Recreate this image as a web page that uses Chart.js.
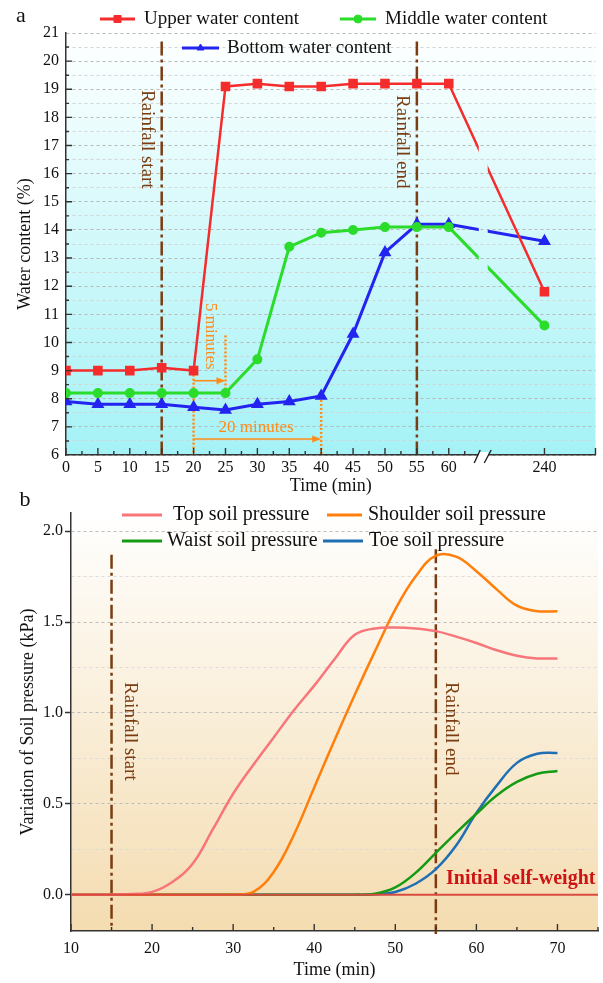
<!DOCTYPE html>
<html>
<head>
<meta charset="utf-8">
<title>Water content and soil pressure</title>
<script src="https://cdn.jsdelivr.net/npm/chart.js@4.4.1/dist/chart.umd.min.js"></script>
<style>
  body{margin:0;background:#fff;}
  #wrap{position:relative;width:603px;height:983px;overflow:hidden;}
  canvas{position:absolute;left:0;}
  #chartA{top:0;}
  #chartB{top:480px;}
</style>
</head>
<body>
<div id="wrap">
  <canvas id="chartA" width="603" height="497"></canvas>
  <canvas id="chartB" width="603" height="503"></canvas>
</div>
<script>
// ---- panel a : water content ----
const timesA = [0,5,10,15,20,25,30,35,40,45,50,55,60,240];
const upperWater  = [9.0,9.0,9.0,9.1,9.0,19.1,19.2,19.1,19.1,19.2,19.2,19.2,19.2,11.8];
const middleWater = [8.2,8.2,8.2,8.2,8.2,8.2,9.4,13.4,13.9,14.0,14.1,14.1,14.1,10.6];
const bottomWater = [7.9,7.8,7.8,7.8,7.7,7.6,7.8,7.9,8.1,10.3,13.2,14.2,14.2,13.6];
const legendA = ['Upper water content','Middle water content','Bottom water content'];

// ---- panel b : soil pressure ----
const timesB = [10,12.5,15,17.5,20,22.5,25,27.5,30,32.5,35,37.5,40,42.5,45,47.5,50,52.5,55,57.5,60,62.5,65,67.5,70];
const topPressure      = [0,0,0,0.003,0.015,0.07,0.17,0.36,0.555,0.715,0.865,1.015,1.15,1.295,1.43,1.465,1.47,1.465,1.45,1.42,1.385,1.345,1.315,1.30,1.30];
const shoulderPressure = [0,0,0,0,0,0,0,0,0,0.015,0.125,0.33,0.59,0.85,1.10,1.34,1.57,1.75,1.865,1.86,1.78,1.68,1.59,1.56,1.56];
const waistPressure    = [0,0,0,0,0,0,0,0,0,0,0,0,0,0,0,0.005,0.04,0.12,0.23,0.34,0.445,0.545,0.62,0.665,0.68];
const toePressure      = [0,0,0,0,0,0,0,0,0,0,0,0,0,0,0,0.002,0.015,0.06,0.14,0.27,0.45,0.60,0.725,0.775,0.78];
const baselineTimes = [10,75];
const baselineVals  = [0,0];
const pressureTicks = [0,0.25,0.5,0.75,1.0,1.25,1.5,1.75,2.0];
const timeTicksB = [10,20,30,40,50,60,70];
const legendB = ['Top soil pressure','Shoulder soil pressure','Waist soil pressure','Toe soil pressure'];

const rainStart = 15, rainEnd = 55;

const SERIF = '"Liberation Serif", "Times New Roman", serif';
const BROWN = '#7a3c10';
const ORANGE = '#ff8c1a';

// broken time axis of panel a: 5 min per unit up to 60, then 240 sits at 15
function posA(t){ return t <= 60 ? t/5 : 15; }
const GAP_FROM = 12.94, GAP_TO = 13.22;

Chart.defaults.font.family = SERIF;
Chart.defaults.color = '#111';

function line(ctx,x1,y1,x2,y2,color,w,dash){
  ctx.save(); ctx.strokeStyle=color; ctx.lineWidth=w; ctx.setLineDash(dash||[]);
  ctx.beginPath(); ctx.moveTo(x1,y1); ctx.lineTo(x2,y2); ctx.stroke(); ctx.restore();
}
function vText(ctx,text,x,y,font,color){
  ctx.save(); ctx.translate(x,y); ctx.rotate(Math.PI/2);
  ctx.font=font; ctx.fillStyle=color; ctx.textAlign='left'; ctx.textBaseline='middle';
  ctx.fillText(text,0,0); ctx.restore();
}
function text(ctx,s,x,y,font,color,align){
  ctx.save(); ctx.font=font; ctx.fillStyle=color; ctx.textAlign=align||'left'; ctx.textBaseline='middle';
  ctx.fillText(s,x,y); ctx.restore();
}
function arrowH(ctx,x1,x2,y,color){
  line(ctx,x1,y,x2-6,y,color,1.6);
  ctx.save(); ctx.fillStyle=color; ctx.beginPath();
  ctx.moveTo(x2,y); ctx.lineTo(x2-9,y-3.5); ctx.lineTo(x2-9,y+3.5); ctx.closePath(); ctx.fill(); ctx.restore();
}
function tickMarks(chart,axis,values,len){
  const {ctx, chartArea:a} = chart; const s = chart.scales[axis];
  ctx.save(); ctx.strokeStyle='#333'; ctx.lineWidth=1.4; ctx.beginPath();
  values.forEach(v=>{
    const p = s.getPixelForValue(v);
    if(axis==='x'){ ctx.moveTo(p,a.bottom); ctx.lineTo(p,a.bottom-len); }
    else { ctx.moveTo(a.left,p); ctx.lineTo(a.left+len,p); }
  });
  ctx.stroke(); ctx.restore();
}
function gradientBg(top,bottom){
  return {id:'bg', beforeDraw(chart){
    const {ctx, chartArea:a} = chart;
    const g = ctx.createLinearGradient(0,a.top,0,a.bottom);
    g.addColorStop(0,top); g.addColorStop(1,bottom);
    ctx.save(); ctx.fillStyle=g; ctx.fillRect(a.left,a.top,a.right-a.left,a.bottom-a.top); ctx.restore();
  }};
}
function legendLine(ctx,x1,x2,y,color,w,style,label,tx,size){
  line(ctx,x1,y,x2,y,color,w);
  if(style){
    ctx.save(); ctx.fillStyle=color; ctx.strokeStyle=color;
    Chart.helpers.drawPoint(ctx,{pointStyle:style,radius:style==='rect'?5:4,rotation:0,borderWidth:1},(x1+x2)/2,y);
    ctx.restore();
  }
  text(ctx,label,tx,y,size+'px '+SERIF,'#111');
}

// ---------- panel a ----------
const annotA = {id:'annotA', beforeDatasetsDraw(chart){
  const {ctx, chartArea:a, scales:{x,y}} = chart;
  [rainStart, rainEnd].forEach(t=>{
    const px = x.getPixelForValue(posA(t));
    line(ctx,px,y.getPixelForValue(20.7),px,a.bottom,BROWN,2.5,[14,4,3,4]);
  });
  vText(ctx,'Rainfall start',x.getPixelForValue(posA(rainStart))-15,90,'19px '+SERIF,BROWN);
  vText(ctx,'Rainfall end',x.getPixelForValue(posA(rainEnd))-15,95,'19px '+SERIF,BROWN);

  const p20 = x.getPixelForValue(posA(20)), p25 = x.getPixelForValue(posA(25)), p40 = x.getPixelForValue(posA(40));
  line(ctx,p20,y.getPixelForValue(9.0),p20,a.bottom,ORANGE,2.5,[2,2]);
  line(ctx,p25,y.getPixelForValue(10.25),p25,y.getPixelForValue(8.2),ORANGE,2.5,[2,2]);
  line(ctx,p40,y.getPixelForValue(8.1),p40,a.bottom,ORANGE,2.5,[2,2]);
  arrowH(ctx,p20,p25,y.getPixelForValue(8.64),ORANGE);
  arrowH(ctx,p20,p40,y.getPixelForValue(6.57),ORANGE);
  vText(ctx,'5 minutes',p20+17,303,'17px '+SERIF,ORANGE);
  text(ctx,'20 minutes',p20+25,y.getPixelForValue(6.96),'17px '+SERIF,ORANGE);
}};

const gapA = {id:'gapA',
  beforeDatasetsDraw(chart){
    const {ctx, scales:{x}} = chart;
    const l = x.getPixelForValue(GAP_FROM), r = x.getPixelForValue(GAP_TO);
    ctx.save(); ctx.beginPath();
    ctx.rect(0,0,l,chart.height); ctx.rect(r,0,chart.width-r,chart.height); ctx.clip();
  },
  afterDatasetsDraw(chart){ chart.ctx.restore(); }
};

const frameA = {id:'frameA', afterDraw(chart){
  const {ctx, chartArea:a, scales:{x}} = chart;
  const major = timesA.map(posA).concat([x.max]);
  const minor = [];
  for(let i=0;i<=12;i++) minor.push(i+0.5);
  tickMarks(chart,'x',major,7);
  tickMarks(chart,'x',minor,4);
  const ymaj = [], ymin = [];
  for(let v=7; v<21; v++) ymaj.push(v);
  for(let v=6.5; v<21; v++) ymin.push(v);
  tickMarks(chart,'y',ymaj,6);
  tickMarks(chart,'y',ymin,3);
  // axis break marks
  const bx = x.getPixelForValue((GAP_FROM+GAP_TO)/2);
  ctx.save(); ctx.fillStyle='#fff'; ctx.fillRect(bx-5,a.bottom-3,10,6); ctx.restore();
  line(ctx,bx-9,a.bottom+8,bx-3,a.bottom-5,'#222',1.4);
  line(ctx,bx+1,a.bottom+8,bx+8,a.bottom-5,'#222',1.4);
  // legend and panel letter
  legendLine(ctx,100,135,19,'#f52c2c',3,'rect',legendA[0],144,19);
  legendLine(ctx,340,376,19,'#2bdc2b',3,'circle',legendA[1],385,19);
  legendLine(ctx,182,219,48,'#2424f0',3,'triangle',legendA[2],227,19);
  text(ctx,'a',21,16,'22px '+SERIF,'#111','center');
}};

function seriesA(vals){ return timesA.map((t,i)=>({x:posA(t), y:vals[i]})); }

new Chart(document.getElementById('chartA'), {
  type:'line',
  data:{datasets:[
    {label:legendA[0], data:seriesA(upperWater), borderColor:'#f52c2c', backgroundColor:'#f52c2c', borderWidth:2.5, pointStyle:'rect', pointRadius:5},
    {label:legendA[1], data:seriesA(middleWater), borderColor:'#2bdc2b', backgroundColor:'#2bdc2b', borderWidth:3, pointStyle:'circle', pointRadius:3.5},
    {label:legendA[2], data:seriesA(bottomWater), borderColor:'#2424f0', backgroundColor:'#2424f0', borderWidth:3, pointStyle:'triangle', pointRadius:4.5}
  ]},
  options:{
    responsive:false, animation:false, devicePixelRatio:1,
    layout:{padding:{top:33,right:2,left:0,bottom:0}},
    plugins:{legend:{display:false}, tooltip:{enabled:false}},
    scales:{
      x:{type:'linear', min:0, max:16.6,
        afterBuildTicks(s){ s.ticks = timesA.map(t=>({value:posA(t)})); },
        afterFit(s){ s.height = 42; },
        grid:{display:false, drawTicks:false},
        border:{display:true,color:'#333',width:1.5},
        ticks:{autoSkip:false, maxRotation:0, padding:3, font:{size:16}, color:'#111', callback:(v,i)=>String(timesA[i])},
        title:{display:true,text:'Time (min)',font:{size:18},color:'#111',padding:{top:0,bottom:0}}
      },
      y:{type:'linear', min:6, max:21,
        afterFit(s){ s.width = 66; },
        grid:{drawTicks:false, lineWidth:1, color:c=>Number.isInteger(c.tick.value)?'#b8b8b8':'#d4d4d4'},
        border:{display:true,color:'#333',width:1.5,dash:[3,3]},
        ticks:{stepSize:0.5, autoSkip:false, padding:7, font:{size:16}, color:'#111', callback:v=>Number.isInteger(v)?String(v):''},
        title:{display:true,text:'Water content (%)',font:{size:18},color:'#111',padding:{top:14,bottom:0}}
      }
    }
  },
  plugins:[gradientBg('#ffffff','#a4f2f6'), annotA, gapA, frameA]
});

// ---------- panel b ----------
const annotB = {id:'annotB', beforeDatasetsDraw(chart){
  const {ctx, chartArea:a, scales:{x,y}} = chart;
  const ps = x.getPixelForValue(rainStart), pe = x.getPixelForValue(rainEnd);
  line(ctx,ps,y.getPixelForValue(1.87),ps,a.bottom,BROWN,2.5,[14,4,3,4]);
  line(ctx,pe,y.getPixelForValue(1.9),pe,a.bottom+3,BROWN,2.5,[14,4,3,4]);
  vText(ctx,'Rainfall start',ps+18,202,'19px '+SERIF,BROWN);
  vText(ctx,'Rainfall end',pe+15,202,'19px '+SERIF,BROWN);
}};

const frameB = {id:'frameB', afterDraw(chart){
  const {ctx, scales:{y}} = chart;
  tickMarks(chart,'x',timeTicksB,7);
  tickMarks(chart,'x',timeTicksB.map(t=>t+5),4);
  text(ctx,'Initial self-weight',446,y.getPixelForValue(0)-16,'bold 20px '+SERIF,'#cc1414');
  legendLine(ctx,122,162,35,'#f7767a',3,null,legendB[0],173,20);
  legendLine(ctx,327,362,35,'#ff7f0a',3,null,legendB[1],368,20);
  legendLine(ctx,122,162,61,'#149a14',3,null,legendB[2],167,20);
  legendLine(ctx,323,363,61,'#1f6fb4',3,null,legendB[3],369,20);
  text(ctx,'b',25,20,'22px '+SERIF,'#111','center');
}};

function seriesB(ts,vals){ return ts.map((t,i)=>({x:t, y:vals[i]})); }
const curve = {borderWidth:2.5, pointRadius:0, tension:0.4, fill:false};

new Chart(document.getElementById('chartB'), {
  type:'line',
  data:{datasets:[
    {label:'Initial self-weight', data:seriesB(baselineTimes,baselineVals), borderColor:'#d94a3f', borderWidth:2, pointRadius:0},
    Object.assign({label:legendB[0], data:seriesB(timesB,topPressure), borderColor:'#f7767a'},curve),
    Object.assign({label:legendB[1], data:seriesB(timesB,shoulderPressure), borderColor:'#ff7f0a'},curve),
    Object.assign({label:legendB[2], data:seriesB(timesB,waistPressure), borderColor:'#149a14'},curve),
    Object.assign({label:legendB[3], data:seriesB(timesB,toePressure), borderColor:'#1f6fb4'},curve)
  ]},
  options:{
    responsive:false, animation:false, devicePixelRatio:1,
    layout:{padding:{top:33,right:5,left:0,bottom:0}},
    plugins:{legend:{display:false}, tooltip:{enabled:false}},
    scales:{
      x:{type:'linear', min:10, max:75,
        afterBuildTicks(s){ s.ticks = timeTicksB.map(v=>({value:v})); },
        afterFit(s){ s.height = 52; },
        grid:{display:false, drawTicks:false},
        border:{display:true,color:'#333',width:1.5},
        ticks:{autoSkip:false, maxRotation:0, padding:8, font:{size:16}, color:'#111'},
        title:{display:true,text:'Time (min)',font:{size:18},color:'#111',padding:{top:0,bottom:2}}
      },
      y:{type:'linear', min:-0.2, max:2.1,
        afterBuildTicks(s){ s.ticks = pressureTicks.map(v=>({value:v})); },
        afterFit(s){ s.width = 71; },
        grid:{drawTicks:true, tickLength:6, tickWidth:1.5, lineWidth:1,
          tickColor:c=>(c.tick && Math.abs(c.tick.value*2-Math.round(c.tick.value*2))<1e-6)?'#333':'rgba(0,0,0,0)',
          color:c=>(c.tick && Math.abs(c.tick.value*2-Math.round(c.tick.value*2))<1e-6)?'#bdbdbd':'#dcdcdc'},
        border:{display:true,color:'#333',width:1.5,dash:[3,3]},
        ticks:{autoSkip:false, padding:2, font:{size:16}, color:'#111',
          callback:v=>Math.abs(v*2-Math.round(v*2))<1e-6 ? v.toFixed(1) : ''},
        title:{display:true,text:'Variation of Soil pressure (kPa)',font:{size:18},color:'#111',padding:{top:17,bottom:0}}
      }
    }
  },
  plugins:[gradientBg('#ffffff','#f4dcb0'), annotB, frameB]
});
</script>
</body>
</html>
